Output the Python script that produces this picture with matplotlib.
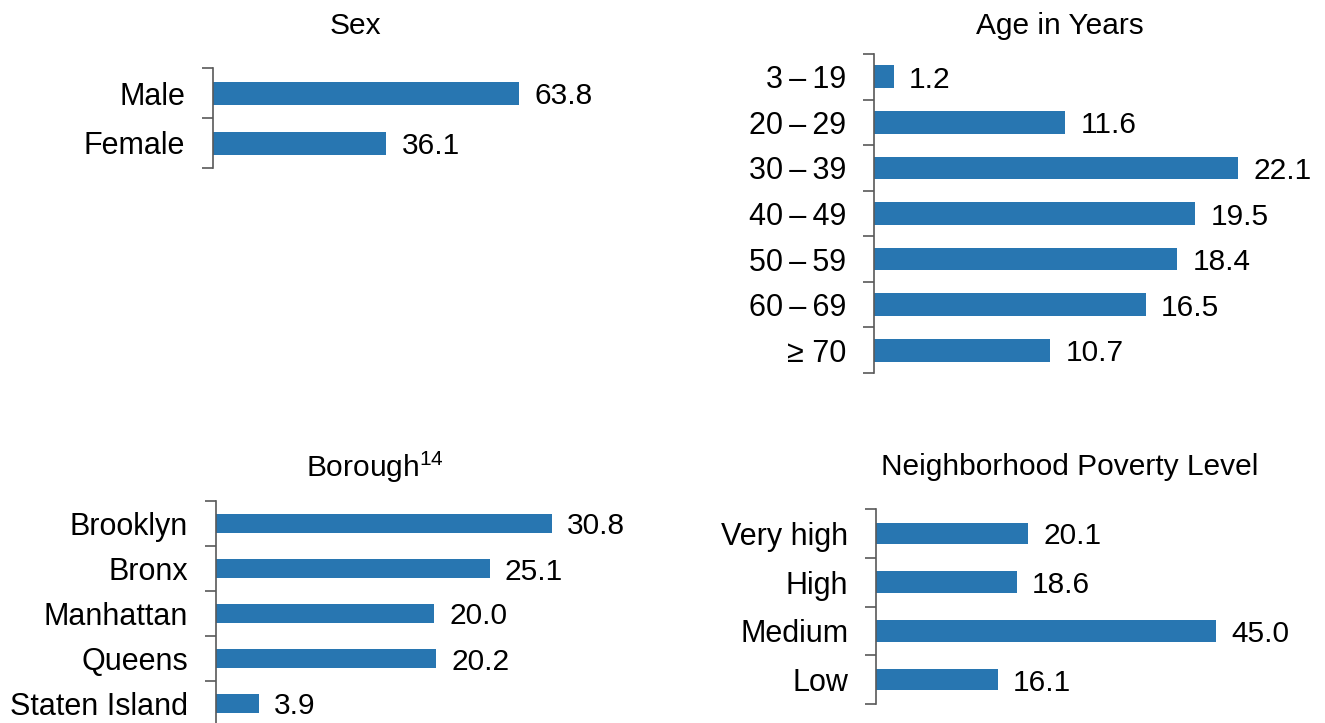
import matplotlib.pyplot as plt
import numpy as np

plt.rcParams['font.family'] = ['Liberation Sans', 'DejaVu Sans']
plt.rcParams['font.size'] = 22

# data (percent)
sex_labels = ['Male', 'Female']
sex_values = [63.8, 36.1]

age_labels = ['3\u2009\u2013\u200919', '20\u2009\u2013\u200929', '30\u2009\u2013\u200939', '40\u2009\u2013\u200949',
              '50\u2009\u2013\u200959', '60\u2009\u2013\u200969', '\u2265 70']
age_values = [1.2, 11.6, 22.1, 19.5, 18.4, 16.5, 10.7]

boro_labels = ['Brooklyn', 'Bronx', 'Manhattan', 'Queens', 'Staten Island']
boro_values = [30.8, 25.1, 20.0, 20.2, 3.9]

pov_labels = ['Very high', 'High', 'Medium', 'Low']
pov_values = [20.1, 18.6, 45.0, 16.1]

bar_color = '#2876B1'
W, H = 1325, 723

fig = plt.figure(figsize=(W / 100, H / 100), dpi=100)


def panel(px_left, px_top, px_bottom, px_width, xmax, labels, values, height):
    rect = [px_left / W, 1 - px_bottom / H, px_width / W, (px_bottom - px_top) / H]
    ax = fig.add_axes(rect)
    n = len(labels)
    y = np.arange(n)
    ax.barh(y, values, height=height, color=bar_color)
    # value labels just past the bar ends
    for yi, v in zip(y, values):
        ax.annotate(f'{v:.1f}', (v, yi), xytext=(11, 0), textcoords='offset points',
                    ha='left', va='center_baseline', fontsize=21.5)
    ax.set_xlim(0, xmax)
    ax.set_ylim(n - 0.5, -0.5)
    ax.set_yticks(y)
    ax.set_yticklabels(labels, va='center_baseline')
    ax.set_yticks(np.arange(n + 1) - 0.5, minor=True)
    ax.tick_params(axis='y', which='major', length=0, pad=20)
    ax.tick_params(axis='y', which='minor', length=8, width=1.2, color='#595959')
    ax.set_xticks([])
    for s in ['top', 'right', 'bottom']:
        ax.spines[s].set_visible(False)
    ax.spines['left'].set_color('#595959')
    ax.spines['left'].set_linewidth(1.2)
    return ax


panel(213, 68, 168, 480, 100, sex_labels, sex_values, 0.46)
panel(874, 54, 373, 412, 25, age_labels, age_values, 0.5)
panel(216, 501, 726, 436, 40, boro_labels, boro_values, 0.44)
panel(876, 509, 704, 378, 50, pov_labels, pov_values, 0.44)

fig.text(355 / W, 1 - 26 / H, 'Sex', ha='center', va='center', fontsize=21.5)
fig.text(1060 / W, 1 - 26 / H, 'Age in Years', ha='center', va='center', fontsize=21.5)
fig.text(375 / W, 1 - 467 / H, 'Borough$^{\\mathregular{14}}$', ha='center', va='center', fontsize=21.5)
fig.text(1070 / W, 1 - 467 / H, 'Neighborhood Poverty Level', ha='center', va='center', fontsize=21.5)

fig.savefig('out.png', dpi=100)
